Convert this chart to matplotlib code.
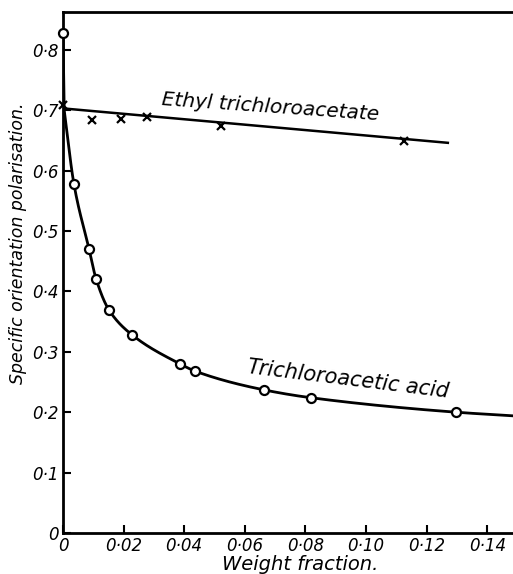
import numpy as np
import matplotlib
matplotlib.use("Agg")
import matplotlib.pyplot as plt

# Trichloroacetic acid (circles)
acid_x = [0.0, 0.0036, 0.0086, 0.0109, 0.0152, 0.0228, 0.0386, 0.0436, 0.0663, 0.0818, 0.1297]
acid_y = [0.828, 0.578, 0.470, 0.421, 0.369, 0.328, 0.280, 0.268, 0.237, 0.224, 0.200]
# extra knots of the drawn smooth curve (near axis and at right edge)
acid_knot_x = [0.0004, 0.1485]
acid_knot_y = [0.700, 0.194]

# Ethyl trichloroacetate (crosses)
ethyl_x = [0.0, 0.0096, 0.0191, 0.0277, 0.0521, 0.1125]
ethyl_y = [0.708, 0.684, 0.685, 0.689, 0.674, 0.649]
ethyl_line_x = [0.0, 0.127]
ethyl_line_y = [0.703, 0.646]

xticks = [0, 0.02, 0.04, 0.06, 0.08, 0.10, 0.12, 0.14]
xticklabels = ["0", "0·02", "0·04", "0·06", "0·08", "0·10", "0·12", "0·14"]
yticks = [0, 0.1, 0.2, 0.3, 0.4, 0.5, 0.6, 0.7, 0.8]
yticklabels = ["0", "0·1", "0·2", "0·3", "0·4", "0·5", "0·6", "0·7", "0·8"]


def pchip(x, y, xn):
    x = np.asarray(x, float); y = np.asarray(y, float)
    h = np.diff(x); d = np.diff(y) / h
    n = len(x); m = np.zeros(n)
    for k in range(1, n - 1):
        if d[k - 1] * d[k] > 0:
            w1 = 2 * h[k] + h[k - 1]; w2 = h[k] + 2 * h[k - 1]
            m[k] = (w1 + w2) / (w1 / d[k - 1] + w2 / d[k])
    m[0] = d[0]; m[-1] = d[-1]
    idx = np.clip(np.searchsorted(x, xn) - 1, 0, n - 2)
    t = (xn - x[idx]) / h[idx]
    h00 = 2 * t**3 - 3 * t**2 + 1; h10 = t**3 - 2 * t**2 + t
    h01 = -2 * t**3 + 3 * t**2; h11 = t**3 - t**2
    return h00 * y[idx] + h10 * h[idx] * m[idx] + h01 * y[idx + 1] + h11 * h[idx] * m[idx + 1]


plt.rcParams['font.family'] = ['DejaVu Sans']
fig = plt.figure(figsize=(5.13, 5.74), dpi=100)
ax = fig.add_axes([63 / 513, 1 - 533 / 574, 1 - 63 / 513, (533 - 12) / 574])

kx = [acid_x[0]] + [acid_knot_x[0]] + acid_x[1:] + [acid_knot_x[1]]
ky = [acid_y[0]] + [acid_knot_y[0]] + acid_y[1:] + [acid_knot_y[1]]
xg = np.linspace(0.0004, kx[-1], 600)
xs = np.concatenate([[0.0, 0.0004], xg])
ys = np.concatenate([[ky[0], ky[1]], pchip(kx[1:], ky[1:], xg)])
ax.plot(xs, ys, color='black', lw=2.0, zorder=2)
ax.plot(acid_x, acid_y, 'o', ms=6.5, mfc='white', mec='black', mew=1.6, zorder=3, clip_on=False)

ax.plot(ethyl_line_x, ethyl_line_y, color='black', lw=1.8, zorder=2)
ax.plot(ethyl_x, ethyl_y, 'x', ms=6, mec='black', mew=1.6, zorder=3, clip_on=False)

ax.set_xlim(0, 0.1485)
ax.set_ylim(0, 0.8626)
ax.set_xticks(xticks)
ax.set_xticklabels(xticklabels, fontsize=12, style='italic')
ax.set_yticks(yticks)
ax.set_yticklabels(yticklabels, fontsize=12, style='italic')
ax.tick_params(direction='in', length=6, width=1.5, pad=3)
for s in ['left', 'bottom', 'top']:
    ax.spines[s].set_linewidth(2.0)
ax.spines['right'].set_visible(False)

ax.text(0.0683, 0.690, "Ethyl trichloroacetate", fontsize=14.5, style='italic',
        rotation=-4, ha='center', va='bottom', rotation_mode='anchor')
ax.text(0.0937, 0.238, "Trichloroacetic acid", fontsize=15, style='italic',
        rotation=-7, ha='center', va='bottom', rotation_mode='anchor')

fig.text(300 / 513, 1 - 565 / 574, "Weight fraction.", fontsize=14, style='italic',
         ha='center', va='center')
fig.text(18 / 513, 1 - 243 / 574, "Specific orientation polarisation.", fontsize=12.5,
         style='italic', rotation=90, ha='center', va='center')

fig.savefig("out.png", dpi=100)
